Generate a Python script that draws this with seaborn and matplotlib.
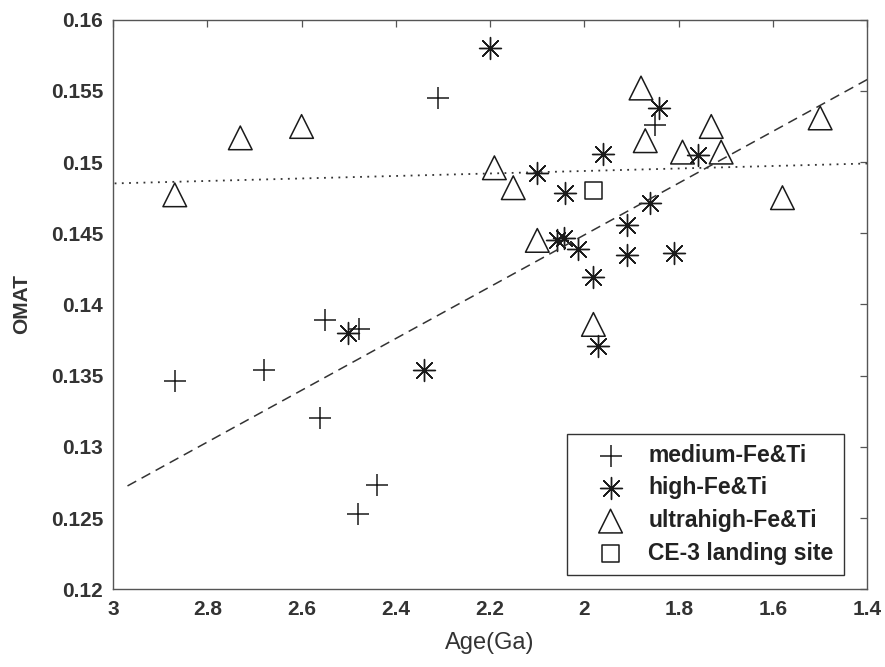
import matplotlib
matplotlib.use("Agg")
import matplotlib.pyplot as plt
import seaborn as sns
import pandas as pd

# ---- data ----
medium_age = [2.869, 2.680, 2.550, 2.478, 2.560, 2.439, 2.480, 2.311, 1.850]
medium_omat = [0.1346, 0.1354, 0.1389, 0.1383, 0.1320, 0.1273, 0.1253, 0.1545, 0.1526]

high_age = [2.200, 1.841, 1.961, 2.101, 2.041, 1.760, 1.861, 1.910, 2.058, 2.044,
            2.013, 1.910, 1.810, 1.981, 1.972, 2.501, 2.341]
high_omat = [0.1580, 0.1538, 0.1506, 0.1492, 0.1478, 0.1505, 0.1471, 0.1456, 0.1445, 0.1447,
             0.1439, 0.1435, 0.1436, 0.1419, 0.1371, 0.1380, 0.1354]

ultra_age = [2.869, 2.730, 2.600, 2.191, 2.151, 1.880, 1.871, 1.792, 1.731, 1.710,
             1.500, 1.580, 2.100, 1.981]
ultra_omat = [0.1477, 0.1517, 0.1525, 0.1496, 0.1482, 0.1552, 0.1515, 0.1507, 0.1525, 0.1507,
              0.1531, 0.1475, 0.1445, 0.1386]

ce3_age = [1.981]
ce3_omat = [0.1480]

# fitted trend lines (end points)
dotted_age = [3.0, 1.4]
dotted_omat = [0.1485, 0.1499]
dashed_age = [2.978, 1.4]
dashed_omat = [0.1271, 0.1558]

labels = ["medium-Fe&Ti", "high-Fe&Ti", "ultrahigh-Fe&Ti", "CE-3 landing site"]
x_ticks = [3, 2.8, 2.6, 2.4, 2.2, 2, 1.8, 1.6, 1.4]
x_ticklabels = ["3", "2.8", "2.6", "2.4", "2.2", "2", "1.8", "1.6", "1.4"]
y_ticks = [0.12, 0.125, 0.13, 0.135, 0.14, 0.145, 0.15, 0.155, 0.16]
y_ticklabels = ["0.12", "0.125", "0.13", "0.135", "0.14", "0.145", "0.15", "0.155", "0.16"]

sns.set_theme(style="white")
plt.rcParams["font.family"] = ["Liberation Sans", "DejaVu Sans"]

fig = plt.figure(figsize=(8.85, 6.67), dpi=100)
ax = fig.add_axes([0.1277, 0.1165, 0.8523, 0.854])

# trend lines
sns.lineplot(x=dotted_age, y=dotted_omat, ax=ax, color="#333333", lw=1.3,
             linestyle=(0, (1, 3.0)), legend=False)
sns.lineplot(x=dashed_age, y=dashed_omat, ax=ax, color="#333333", lw=1.1,
             linestyle=(0, (6.5, 4)), legend=False)

# points
sns.scatterplot(x=medium_age, y=medium_omat, ax=ax, marker="+", s=270,
                color="k", linewidth=1.1, label=labels[0])
sns.scatterplot(x=high_age, y=high_omat, ax=ax, marker=(8, 2, 0), s=250,
                color="k", linewidth=1.0, label=labels[1])
sns.scatterplot(x=ultra_age, y=ultra_omat, ax=ax, marker="^", s=290,
                facecolor="none", edgecolor="k", linewidth=1.1, label=labels[2])
sns.scatterplot(x=ce3_age, y=ce3_omat, ax=ax, marker="s", s=150,
                facecolor="none", edgecolor="k", linewidth=1.1, label=labels[3])

ax.set_xlim(3, 1.4)
ax.set_ylim(0.12, 0.16)
ax.set_xticks(x_ticks)
ax.set_xticklabels(x_ticklabels)
ax.set_yticks(y_ticks)
ax.set_yticklabels(y_ticklabels)

for lab in ax.get_xticklabels() + ax.get_yticklabels():
    lab.set_fontweight("bold")
    lab.set_fontsize(15)
    lab.set_color("#333333")

ax.tick_params(axis="x", pad=8)
ax.tick_params(axis="y", pad=7)
ax.tick_params(direction="in", top=True, right=True, length=5, width=0.9,
               color="#555555")
for sp in ax.spines.values():
    sp.set_color("#555555")
    sp.set_linewidth(1.0)

ax.set_xlabel("Age(Ga)", fontsize=17, color="#333333", labelpad=9)
ax.set_ylabel("OMAT", fontsize=15, fontweight="bold", color="#333333", labelpad=14)

leg = ax.legend(loc="lower right", bbox_to_anchor=(0.969, 0.025), borderaxespad=0,
                frameon=True, fancybox=False, edgecolor="black",
                prop={"weight": "bold", "size": 16.5}, handletextpad=0.2,
                labelspacing=0.42, borderpad=0.45, handlelength=2.9)
leg.get_frame().set_linewidth(1.0)
for t in leg.get_texts():
    t.set_color("#222222")

fig.savefig("out.png", dpi=100)
